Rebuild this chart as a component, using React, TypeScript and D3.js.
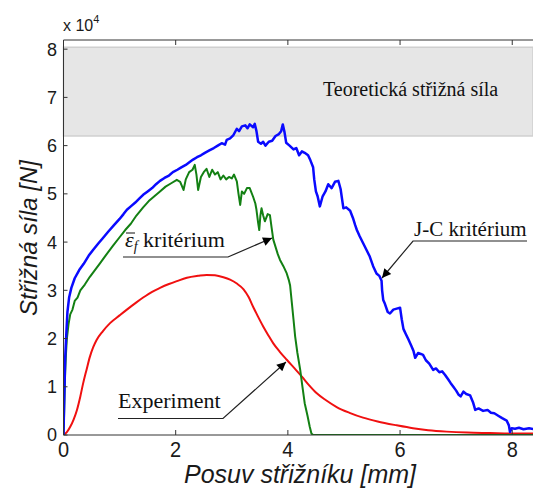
import React from 'react';
import * as d3 from 'd3';

// values (force in 1e4 N, displacement in mm)
const jcCurve: [number, number][] = [
  [0, 0], [0.01, 0.6], [0.02, 1.1], [0.03, 1.6], [0.05, 2.1], [0.07, 2.55], [0.1, 2.85], [0.14, 3.05],
  [0.2, 3.25], [0.28, 3.42], [0.36, 3.55], [0.45, 3.72], [0.53, 3.84], [0.62, 3.97], [0.7, 4.08],
  [0.8, 4.22], [0.9, 4.35], [1.0, 4.48], [1.07, 4.58], [1.13, 4.67], [1.2, 4.74], [1.28, 4.82],
  [1.35, 4.9], [1.42, 4.98], [1.5, 5.05], [1.58, 5.12], [1.65, 5.2], [1.72, 5.27], [1.8, 5.33],
  [1.88, 5.38], [1.95, 5.45], [2.03, 5.5], [2.1, 5.55], [2.18, 5.6], [2.25, 5.66], [2.31, 5.71],
  [2.38, 5.76], [2.45, 5.8], [2.52, 5.85], [2.6, 5.9], [2.68, 5.95], [2.75, 6.0], [2.82, 6.05],
  [2.88, 6.02], [2.91, 6.12], [2.97, 6.15], [3.03, 6.22], [3.09, 6.35], [3.13, 6.3], [3.18, 6.4],
  [3.24, 6.42], [3.28, 6.36], [3.32, 6.44], [3.38, 6.38], [3.41, 6.45], [3.44, 6.3], [3.47, 6.08],
  [3.52, 6.04], [3.56, 6.08], [3.6, 6.0], [3.66, 6.08], [3.72, 6.1], [3.78, 6.2], [3.84, 6.24],
  [3.88, 6.3], [3.91, 6.44], [3.94, 6.28], [3.97, 6.06], [4.03, 6.0], [4.1, 5.92], [4.15, 5.95],
  [4.2, 5.8], [4.25, 5.88], [4.3, 5.85], [4.36, 5.8], [4.4, 5.7], [4.45, 5.55], [4.47, 5.3],
  [4.5, 5.05], [4.53, 4.95], [4.57, 4.74], [4.62, 4.95], [4.67, 5.05], [4.72, 5.2], [4.78, 5.12],
  [4.84, 5.25], [4.9, 5.27], [4.94, 5.1], [4.99, 4.7], [5.04, 4.72], [5.11, 4.65], [5.16, 4.5],
  [5.2, 4.35], [5.23, 4.25], [5.28, 4.12], [5.34, 3.98], [5.4, 3.84], [5.46, 3.7], [5.52, 3.5],
  [5.58, 3.35], [5.63, 3.3], [5.67, 3.2], [5.68, 3.0], [5.7, 2.8], [5.73, 2.72], [5.78, 2.55],
  [5.82, 2.52], [5.88, 2.6], [5.94, 2.62], [6.0, 2.64], [6.03, 2.4], [6.06, 2.2], [6.1, 2.1],
  [6.15, 1.98], [6.2, 1.85], [6.24, 1.74], [6.27, 1.6], [6.32, 1.7], [6.37, 1.68], [6.41, 1.66],
  [6.46, 1.55], [6.52, 1.48], [6.59, 1.35], [6.64, 1.38], [6.7, 1.3], [6.75, 1.32], [6.8, 1.25],
  [6.86, 1.15], [6.9, 1.08], [6.95, 1.0], [7.0, 0.92], [7.04, 0.84], [7.08, 0.8], [7.13, 0.9],
  [7.18, 0.85], [7.25, 0.82], [7.3, 0.68], [7.34, 0.52], [7.4, 0.55], [7.48, 0.5], [7.56, 0.52],
  [7.62, 0.46], [7.68, 0.45], [7.75, 0.4], [7.82, 0.35], [7.9, 0.3], [7.94, 0.2], [7.96, 0.06],
  [7.99, 0.14], [8.05, 0.13], [8.12, 0.15], [8.2, 0.12], [8.3, 0.14], [8.4, 0.12],
];

const epsCurve: [number, number][] = [
  [0, 0], [0.01, 0.4], [0.02, 0.9], [0.03, 1.3], [0.045, 1.7], [0.06, 2.0], [0.09, 2.3], [0.12, 2.5],
  [0.16, 2.6], [0.2, 2.78], [0.25, 2.85], [0.3, 3.0], [0.38, 3.12], [0.47, 3.28], [0.56, 3.42],
  [0.65, 3.56], [0.75, 3.72], [0.88, 3.92], [1.0, 4.1], [1.1, 4.25], [1.2, 4.38], [1.3, 4.55],
  [1.42, 4.72], [1.52, 4.85], [1.62, 4.95], [1.72, 5.05], [1.82, 5.15], [1.92, 5.22], [2.02, 5.29],
  [2.08, 5.25], [2.14, 5.08], [2.18, 5.3], [2.24, 5.45], [2.3, 5.5], [2.34, 5.6], [2.37, 5.4],
  [2.4, 5.08], [2.45, 5.35], [2.5, 5.45], [2.55, 5.52], [2.6, 5.35], [2.65, 5.5], [2.7, 5.4],
  [2.75, 5.45], [2.8, 5.3], [2.85, 5.38], [2.9, 5.3], [2.95, 5.35], [3.0, 5.32], [3.04, 5.4],
  [3.09, 5.26], [3.12, 5.0], [3.15, 4.77], [3.18, 5.05], [3.22, 5.0], [3.27, 5.12], [3.32, 5.12],
  [3.38, 4.94], [3.42, 4.8], [3.44, 4.67], [3.47, 4.4], [3.49, 4.25], [3.51, 4.55], [3.53, 4.7],
  [3.56, 4.55], [3.59, 4.43], [3.64, 4.58], [3.68, 4.56], [3.71, 4.3], [3.74, 4.05], [3.78, 3.9],
  [3.82, 3.75], [3.86, 3.63], [3.92, 3.5], [3.98, 3.35], [4.02, 3.2], [4.04, 3.1], [4.07, 2.75],
  [4.1, 2.4], [4.13, 2.04], [4.17, 1.7], [4.22, 1.35], [4.26, 1.0], [4.3, 0.66], [4.35, 0.4],
  [4.39, 0.17], [4.42, 0.03], [4.45, 0], [8.4, 0],
];

const experiment: [number, number][] = [
  [0, 0], [0.06, 0.06], [0.12, 0.17], [0.18, 0.32], [0.24, 0.52], [0.3, 0.8], [0.35, 1.07],
  [0.41, 1.35], [0.47, 1.62], [0.53, 1.82], [0.59, 1.97], [0.7, 2.15], [0.83, 2.32], [1.0, 2.48],
  [1.13, 2.6], [1.3, 2.75], [1.42, 2.85], [1.58, 2.97], [1.72, 3.05], [1.88, 3.13], [2.02, 3.19],
  [2.2, 3.26], [2.4, 3.3], [2.55, 3.32], [2.7, 3.31], [2.85, 3.27], [2.97, 3.22], [3.09, 3.14],
  [3.21, 3.02], [3.3, 2.86], [3.38, 2.66], [3.47, 2.45], [3.56, 2.25], [3.65, 2.07], [3.74, 1.9],
  [3.86, 1.72], [3.98, 1.56], [4.12, 1.38], [4.25, 1.21], [4.38, 1.03], [4.51, 0.87], [4.68, 0.72],
  [4.87, 0.58], [5.1, 0.46], [5.34, 0.36], [5.6, 0.28], [5.94, 0.2], [6.23, 0.14], [6.5, 0.1],
  [6.83, 0.07], [7.2, 0.05], [7.6, 0.04], [8.0, 0.03], [8.4, 0.03],
];

const theoryBand = [6.2, 8.04];
const xTicks = [0, 2, 4, 6, 8];
const yTicks = [0, 1, 2, 3, 4, 5, 6, 7, 8];

const W = 533;
const H = 489;
const sans = 'Liberation Sans, Arial, sans-serif';
const serif = 'Liberation Serif, Times New Roman, serif';

export default function App() {
  // the plot box runs off the right edge of the picture
  const x = d3.scaleLinear().domain([0, 8.37]).range([63.5, 533]);
  const y = d3.scaleLinear().domain([0, 8.19]).range([435, 40]);

  const line = d3.line<[number, number]>()
    .x(d => x(d[0]))
    .y(d => y(d[1]));
  const smooth = d3.line<[number, number]>()
    .x(d => x(d[0]))
    .y(d => y(d[1]))
    .curve(d3.curveMonotoneX);

  const left = x(0), right = x.range()[1], top = y.range()[1], bottom = y(0);

  return (
    <svg width={W} height={H} style={{ position: 'absolute', left: 0, top: 0, background: 'white' }}>
      <defs>
        <clipPath id="plot">
          <rect x={left} y={top} width={right - left} height={bottom - top} />
        </clipPath>
        <marker id="arr" viewBox="0 0 10 10" refX="10" refY="5" markerWidth="11" markerHeight="9"
          markerUnits="userSpaceOnUse" orient="auto">
          <path d="M0,0 L10,5 L0,10 z" fill="#000" />
        </marker>
      </defs>

      {/* theoretical shear force band */}
      <rect x={left} y={y(theoryBand[1])} width={right - left} height={y(theoryBand[0]) - y(theoryBand[1])}
        fill="#e6e6e6" stroke="#cfcfcf" strokeWidth={1.5} />

      <g clipPath="url(#plot)" fill="none" strokeLinejoin="round">
        <path d={smooth(experiment) || ''} stroke="#f01010" strokeWidth={2} />
        <path d={line(epsCurve) || ''} stroke="#138013" strokeWidth={2} />
        <path d={line(jcCurve) || ''} stroke="#0a0aff" strokeWidth={2.5} />
      </g>

      {/* frame */}
      <g stroke="#333" strokeWidth={1} fill="none">
        <line x1={left} x2={right} y1={top} y2={top} />
        <line x1={left} x2={right} y1={bottom} y2={bottom} />
        <line x1={left} x2={left} y1={top} y2={bottom} />
        {xTicks.filter(t => t > 0).map(t => (
          <g key={t}>
            <line x1={x(t)} x2={x(t)} y1={bottom} y2={bottom - 5} />
            <line x1={x(t)} x2={x(t)} y1={top} y2={top + 5} />
          </g>
        ))}
        {yTicks.map(t => (
          <line key={t} x1={left} x2={left + 4} y1={y(t)} y2={y(t)} />
        ))}
      </g>

      {/* tick labels */}
      <g fontFamily={sans} fill="#1a1a1a">
        {yTicks.map(t => (
          <text key={t} x={57} y={y(t)} dy="0.36em" fontSize={18} textAnchor="end">{t}</text>
        ))}
        {xTicks.map(t => (
          <text key={t} transform={`translate(${x(t)},457) scale(1,1.12)`} fontSize={20} textAnchor="middle">{t}</text>
        ))}
        <text x={63} y={31} fontSize={16}>x 10<tspan fontSize={11} dy={-8}>4</tspan></text>
        <text transform="translate(37,238) rotate(-90)" fontSize={24} fontStyle="italic" textAnchor="middle">
          Střižná síla [N]
        </text>
        <text x={300} y={483} fontSize={25} fontStyle="italic" textAnchor="middle">Posuv střižníku [mm]</text>
      </g>

      {/* annotations */}
      <g fontFamily={serif} fill="#111">
        <text x={323} y={96} fontSize={20}>Teoretická střižná síla</text>

        <text x={414} y={236} fontSize={21}>J-C kritérium</text>
        <polyline points="527,241 413,241 382,278" fill="none" stroke="#222" strokeWidth={1.2} markerEnd="url(#arr)" />

        <text x={125} y={247} fontSize={22}>
          <tspan fontStyle="italic">ε</tspan>
          <tspan fontStyle="italic" fontSize={14} dy={4}>f</tspan>
          <tspan dy={-4}> kritérium</tspan>
        </text>
        <line x1={126} x2={135} y1={233} y2={233} stroke="#111" strokeWidth={1} />
        <polyline points="123,257 228,257 272,238" fill="none" stroke="#222" strokeWidth={1.2} markerEnd="url(#arr)" />

        <text x={118} y={408} fontSize={22}>Experiment</text>
        <polyline points="118,418.5 223,418.5 286,362" fill="none" stroke="#222" strokeWidth={1.2} markerEnd="url(#arr)" />
      </g>
    </svg>
  );
}
